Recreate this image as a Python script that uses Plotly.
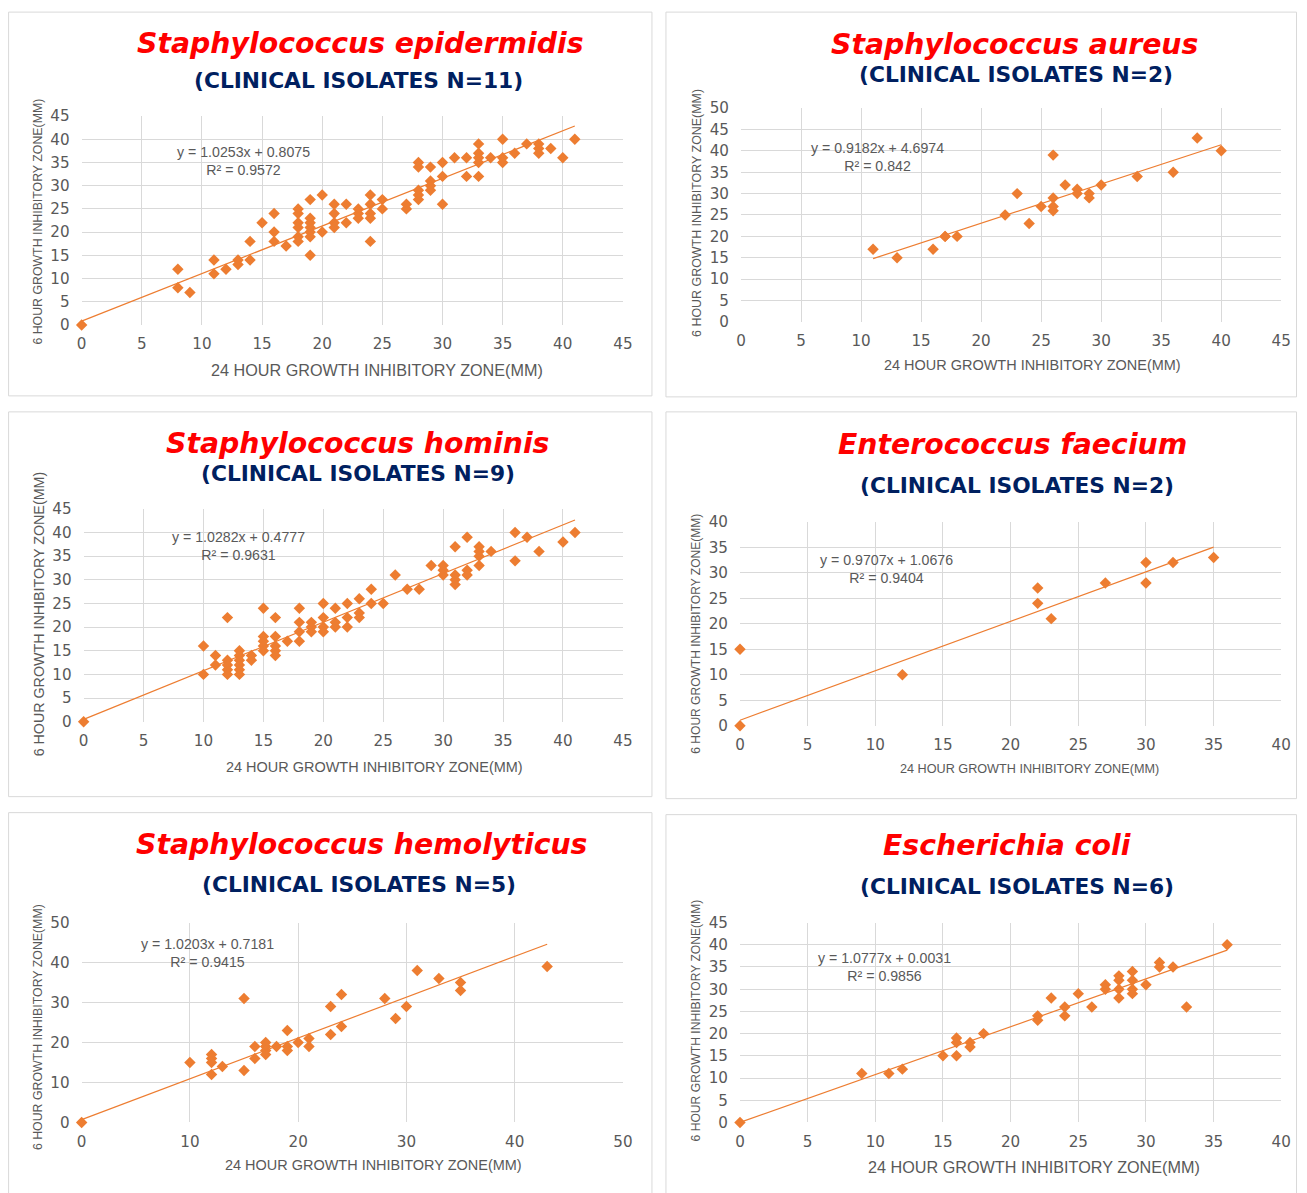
import plotly.graph_objects as go

# ---- data: 24 h zone (x) vs 6 h zone (y), mm ----
species = ["Staphylococcus epidermidis", "Staphylococcus aureus", "Staphylococcus hominis",
           "Enterococcus faecium", "Staphylococcus hemolyticus", "Escherichia coli"]
isolates = ["(CLINICAL ISOLATES N=11)", "(CLINICAL ISOLATES N=2)", "(CLINICAL ISOLATES N=9)",
            "(CLINICAL ISOLATES N=2)", "(CLINICAL ISOLATES N=5)", "(CLINICAL ISOLATES N=6)"]

x_epi = [0, 8, 8, 9, 11, 11, 12, 13, 13, 14, 14, 15, 16, 16, 16, 17,
         18, 18, 18, 18, 18, 18, 19, 19, 19, 19, 19, 19, 19, 20, 20,
         21, 21, 21, 21, 22, 22, 23, 23, 23, 24, 24, 24, 24, 24, 25, 25,
         27, 27, 28, 28, 28, 28, 28, 29, 29, 29, 29, 30, 30, 30, 31, 32, 32,
         33, 33, 33, 33, 33, 34, 35, 35, 35, 36, 37, 38, 38, 38, 39, 40, 41]
y_epi = [0, 12, 8, 7, 14, 11, 12, 14, 13, 18, 14, 22, 24, 20, 18, 17,
         25, 24, 22, 21, 19, 18, 27, 23, 22, 21, 20, 19, 15, 28, 20,
         26, 24, 22, 21, 26, 22, 25, 24, 23, 28, 26, 24, 23, 18, 27, 25,
         26, 25, 35, 34, 29, 28, 27, 34, 31, 30, 29, 35, 32, 26, 36, 36, 32,
         39, 37, 36, 35, 32, 36, 40, 36, 35, 37, 39, 39, 38, 37, 38, 36, 40]

x_aur = [11, 13, 16, 17, 17, 18, 22, 23, 24, 25, 26, 26, 26, 26, 27, 28, 28, 29, 29, 30, 33, 36, 38, 40]
y_aur = [17, 15, 17, 20, 20, 20, 25, 30, 23, 27, 39, 29, 27, 26, 32, 31, 30, 30, 29, 32, 34, 35, 43, 40]

x_hom = [0, 10, 10, 11, 11, 12, 12, 12, 12, 12, 13, 13, 13, 13, 13, 13, 14, 14,
         15, 15, 15, 15, 15, 16, 16, 16, 16, 16, 17, 18, 18, 18, 18, 19, 19, 19,
         20, 20, 20, 20, 21, 21, 21, 22, 22, 22, 23, 23, 23, 24, 24, 25, 26, 27, 28, 29,
         30, 30, 30, 31, 31, 31, 31, 32, 32, 32, 33, 33, 33, 33, 34, 36, 36, 37, 38, 40, 41]
y_hom = [0, 16, 10, 14, 12, 22, 13, 12, 11, 10, 15, 14, 13, 12, 11, 10, 14, 13,
         24, 18, 17, 16, 15, 22, 18, 16, 15, 14, 17, 24, 21, 19, 17, 21, 20, 19,
         25, 22, 20, 19, 24, 21, 20, 25, 22, 20, 26, 23, 22, 28, 25, 25, 31, 28, 28, 33,
         33, 32, 31, 37, 31, 30, 29, 39, 32, 31, 37, 36, 35, 33, 36, 40, 34, 39, 36, 38, 40]

x_fae = [0, 0, 12, 22, 22, 23, 27, 30, 30, 32, 35]
y_fae = [0, 15, 10, 27, 24, 21, 28, 32, 28, 32, 33]

x_hem = [0, 10, 12, 12, 12, 12, 13, 15, 15, 16, 16, 17, 17, 17, 17, 18, 19, 19, 19,
         20, 21, 21, 23, 23, 24, 24, 28, 29, 30, 31, 33, 35, 35, 43]
y_hem = [0, 15, 17, 16, 15, 12, 14, 31, 13, 19, 16, 20, 19, 18, 17, 19, 23, 19, 18,
         20, 21, 19, 29, 22, 32, 24, 31, 26, 29, 38, 36, 35, 33, 39]

x_col = [0, 9, 11, 12, 15, 16, 16, 16, 17, 17, 18, 22, 22, 23, 24, 24, 25, 26,
         27, 27, 28, 28, 28, 28, 29, 29, 29, 29, 30, 31, 31, 32, 33, 36]
y_col = [0, 11, 11, 12, 15, 19, 18, 15, 18, 17, 20, 24, 23, 28, 26, 24, 29, 26,
         31, 30, 33, 32, 30, 28, 34, 32, 30, 29, 31, 36, 35, 35, 26, 40]

# linear trendline coefficients and R squared
slopes = [1.0253, 0.9182, 1.0282, 0.9707, 1.0203, 1.0777]
intercepts = [0.8075, 4.6974, 0.4777, 1.0676, 0.7181, 0.0031]
r_squared = [0.9572, 0.842, 0.9631, 0.9404, 0.9415, 0.9856]

# axis extents and tick steps
x_max = [45, 45, 45, 40, 50, 40]
y_max = [45, 50, 45, 40, 50, 45]
x_step = [5, 5, 5, 5, 10, 5]
y_step = [5, 5, 5, 5, 10, 5]

x_label = "24 HOUR GROWTH INHIBITORY ZONE(MM)"
y_label = "6 HOUR GROWTH INHIBITORY ZONE(MM)"

xs = [x_epi, x_aur, x_hom, x_fae, x_hem, x_col]
ys = [y_epi, y_aur, y_hom, y_fae, y_hem, y_col]

# ---- geometry, in on-screen pixels ----
W, H = 1307, 1193
PAD = 8            # default body margin around the plot div
ZOOM_X = 0.988     # on-screen scale of the page
ZOOM_Y = 0.9855
SHIFT_X = 3.5      # on-screen horizontal shift of the page

plot_box = [(81, 622, 115, 324), (740, 1280, 107, 321), (83, 622, 508, 721),
            (739, 1280, 521, 725), (81, 622, 922, 1122), (739, 1280, 922, 1122)]
frame_box = [(8, 651, 11, 395), (665, 1306, 11, 396), (8, 651, 411, 796),
             (665, 1306, 411, 798), (8, 651, 812, 1200), (665, 1306, 814, 1200)]
title_at = [(360, 42), (1013, 43), (357, 443), (1011, 444), (361, 844), (1006, 845)]
sub_at = [(358, 79), (1015, 73), (357, 473), (1016, 485), (358, 884), (1016, 886)]
eq_at = [(243, 159.5), (876, 156), (238, 545.5), (885, 568.5), (207, 952), (883, 966)]
xt_at = [(376, 369), (1031, 364), (374, 766), (1028, 768), (373, 1165), (1033, 1167)]
xt_size = [16, 14.3, 14.3, 12.5, 14.3, 16]
yt_at = [(37, 221), (696, 212), (38, 613), (695, 633), (37, 1027), (695, 1020)]
yt_size = [12.2, 12.3, 14.1, 11.9, 12.2, 12]

ORANGE = "#ED7D31"
GRID = "#D9D9D9"
TXT = "#595959"


def px(v):
    f = (v + SHIFT_X) / ZOOM_X - PAD
    return min(max(f, 0.5), W - 0.5) / W


def py(v, clip=True):
    f = v / ZOOM_Y - PAD
    if clip:
        f = min(max(f, 0.5), H - 0.5)
    return 1 - f / H


def fs(size):
    return size / ZOOM_X


fig = go.Figure()
layout = dict(width=W, height=H, margin=dict(l=0, r=0, t=0, b=0), autosize=False,
              paper_bgcolor="white", plot_bgcolor="white", showlegend=False)
annotations = []
shapes = []

for i in range(6):
    n = "" if i == 0 else str(i + 1)
    xa, ya = "x" + n, "y" + n
    x0, x1, y0, y1 = plot_box[i]
    axis_font = dict(family="DejaVu Sans", size=fs(15), color=TXT)
    layout["xaxis" + n] = dict(domain=[px(x0), px(x1)], anchor=ya, range=[0, x_max[i]],
                               dtick=x_step[i], tick0=0, showgrid=True, gridcolor=GRID,
                               gridwidth=1, zeroline=False, showline=False, ticks="",
                               tickfont=axis_font, ticklabelstandoff=8, fixedrange=True)
    layout["yaxis" + n] = dict(domain=[py(y1), py(y0)], anchor=xa, range=[0, y_max[i]],
                               dtick=y_step[i], tick0=0, showgrid=True, gridcolor=GRID,
                               gridwidth=1, zeroline=False, showline=False, ticks="",
                               tickfont=axis_font, ticklabelstandoff=11, fixedrange=True)

    # measured points
    fig.add_trace(go.Scatter(x=xs[i], y=ys[i], mode="markers", xaxis=xa, yaxis=ya,
                             marker=dict(symbol="diamond", size=fs(8.7), color=ORANGE,
                                         line=dict(width=0)),
                             cliponaxis=False))
    # least-squares trendline over the data range
    lo, hi = min(xs[i]), max(xs[i])
    fig.add_trace(go.Scatter(x=[lo, hi],
                             y=[slopes[i] * lo + intercepts[i], slopes[i] * hi + intercepts[i]],
                             mode="lines", xaxis=xa, yaxis=ya,
                             line=dict(color=ORANGE, width=1.2), cliponaxis=False))

    # panel frame (the bottom row runs off the page edge)
    fx0, fx1, fy0, fy1 = frame_box[i]
    L, R = px(fx0), px(fx1)
    T, B = py(fy0), py(fy1, clip=False)
    shapes.append(dict(type="path", xref="paper", yref="paper",
                       path="M %f,%f L %f,%f L %f,%f L %f,%f Z" % (L, B, L, T, R, T, R, B),
                       line=dict(color=GRID, width=1), fillcolor="rgba(0,0,0,0)",
                       layer="below"))

    tx, ty = title_at[i]
    annotations.append(dict(text="<b><i>%s</i></b>" % species[i], x=px(tx), y=py(ty),
                            xref="paper", yref="paper", xanchor="center", yanchor="middle",
                            showarrow=False,
                            font=dict(family="DejaVu Sans", size=fs(28), color="#FF0000")))
    sx, sy = sub_at[i]
    annotations.append(dict(text="<b>%s</b>" % isolates[i], x=px(sx), y=py(sy),
                            xref="paper", yref="paper", xanchor="center", yanchor="middle",
                            showarrow=False,
                            font=dict(family="DejaVu Sans", size=fs(21.5), color="#002060")))
    ex, ey = eq_at[i]
    eq = "y = %.4fx + %.4f<br>R² = %s" % (slopes[i], intercepts[i], "%g" % r_squared[i])
    annotations.append(dict(text=eq, x=px(ex), y=py(ey), xref="paper", yref="paper",
                            xanchor="center", yanchor="middle", align="center",
                            showarrow=False,
                            font=dict(family="Liberation Sans", size=fs(14), color=TXT)))
    xtx, xty = xt_at[i]
    annotations.append(dict(text=x_label, x=px(xtx), y=py(xty), xref="paper", yref="paper",
                            xanchor="center", yanchor="middle", showarrow=False,
                            font=dict(family="Liberation Sans", size=fs(xt_size[i]), color=TXT)))
    ytx, yty = yt_at[i]
    annotations.append(dict(text=y_label, x=px(ytx), y=py(yty), xref="paper", yref="paper",
                            xanchor="center", yanchor="middle", showarrow=False,
                            textangle=-90,
                            font=dict(family="Liberation Sans", size=fs(yt_size[i]), color=TXT)))

layout["annotations"] = annotations
layout["shapes"] = shapes
fig.update_layout(**layout)
fig.write_html("out.html", config={"displayModeBar": False})
